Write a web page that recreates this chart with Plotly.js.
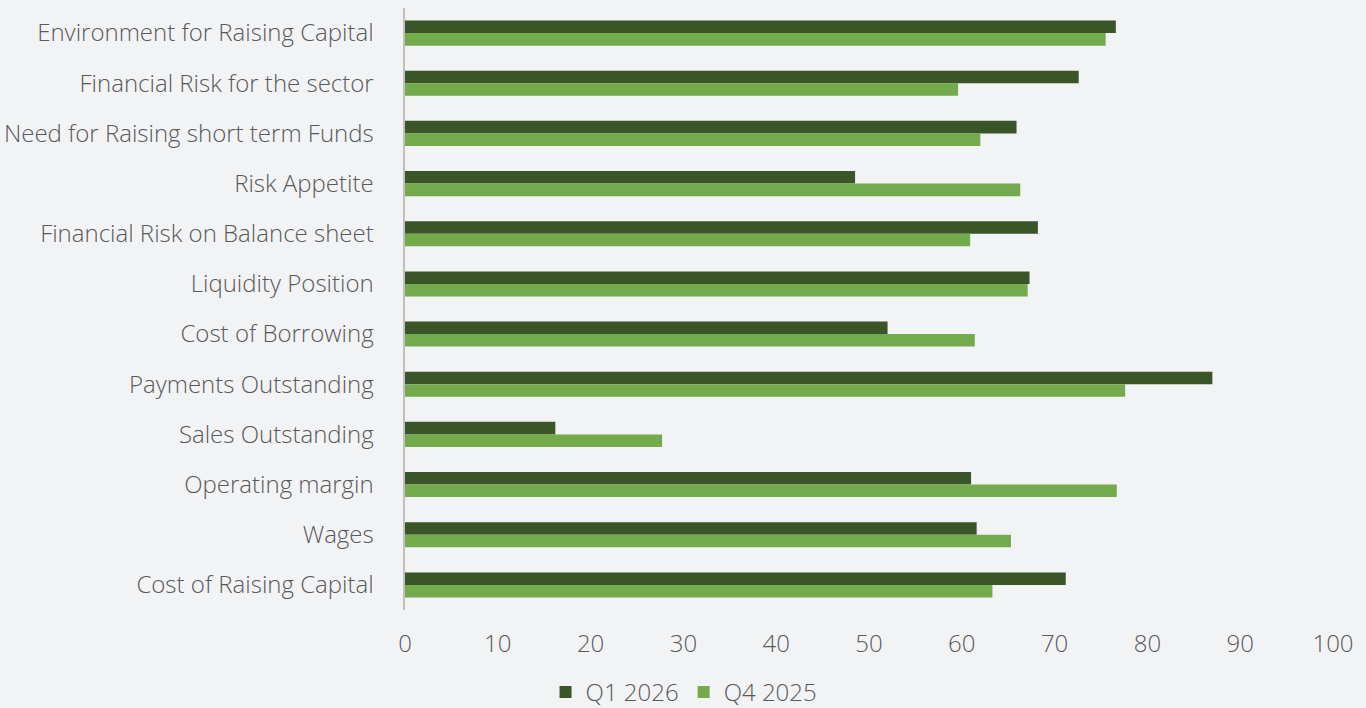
<!DOCTYPE html>
<html>
<head>
<meta charset="utf-8">
<script src="https://cdn.plot.ly/plotly-3.0.1.min.js"></script>
<style>html,body{margin:0;padding:0;background:#f2f3f5;}#chart{width:1366px;height:708px;}</style>
</head>
<body>
<div id="chart"></div>
<script>
const categories = [
  "Environment for Raising Capital",
  "Financial Risk for the sector",
  "Need for Raising short term Funds",
  "Risk Appetite",
  "Financial Risk on Balance sheet",
  "Liquidity Position",
  "Cost of Borrowing",
  "Payments Outstanding",
  "Sales Outstanding",
  "Operating margin",
  "Wages",
  "Cost of Raising Capital"
];
const q1_2026 = [76.6, 72.6, 65.9, 48.5, 68.2, 67.3, 52.0, 87.0, 16.2, 61.0, 61.6, 71.2];
const q4_2025 = [75.5, 59.6, 62.0, 66.3, 60.9, 67.1, 61.4, 77.6, 27.7, 76.7, 65.3, 63.3];
const seriesNames = ["Q1 2026", "Q4 2025"];
const xTicks = [0, 10, 20, 30, 40, 50, 60, 70, 80, 90, 100];

const font = "'Open Sans', Lato, sans-serif";
const f = {family: font, size: 24, color: "#595959", weight: 300};
const data = [
  {type: "bar", orientation: "h", name: seriesNames[0], y: categories, x: q1_2026,
   marker: {color: "#3a5528"}, hoverinfo: "x+y"},
  {type: "bar", orientation: "h", name: seriesNames[1], y: categories, x: q4_2025,
   marker: {color: "#73aa4c"}, hoverinfo: "x+y"}
];
const layout = {
  width: 1366, height: 708,
  paper_bgcolor: "#f2f3f5", plot_bgcolor: "#f2f3f5",
  margin: {l: 405, r: 33, t: 8, b: 98, autoexpand: false},
  barmode: "group", bargap: 0.5, bargroupgap: 0,
  font: f,
  xaxis: {range: [0, 100], tickvals: xTicks, ticktext: xTicks.map(String),
    showgrid: false, zeroline: false, showline: false,
    ticks: "outside", ticklen: 12, tickcolor: "rgba(0,0,0,0)",
    tickfont: f, fixedrange: true, automargin: false},
  yaxis: {autorange: "reversed", showgrid: false, zeroline: false,
    showline: true, linecolor: "#bfbfbf", linewidth: 2.5,
    ticks: "outside", ticklen: 24, tickcolor: "rgba(0,0,0,0)",
    tickfont: f, fixedrange: true, automargin: false},
  showlegend: true,
  legend: {orientation: "h", x: 0.3007, xanchor: "center",
    y: -0.137, yanchor: "middle", font: f,
    bgcolor: "rgba(0,0,0,0)", traceorder: "normal", itemwidth: 30}
};
Plotly.newPlot("chart", data, layout, {displayModeBar: false, staticPlot: true});
</script>
</body>
</html>
